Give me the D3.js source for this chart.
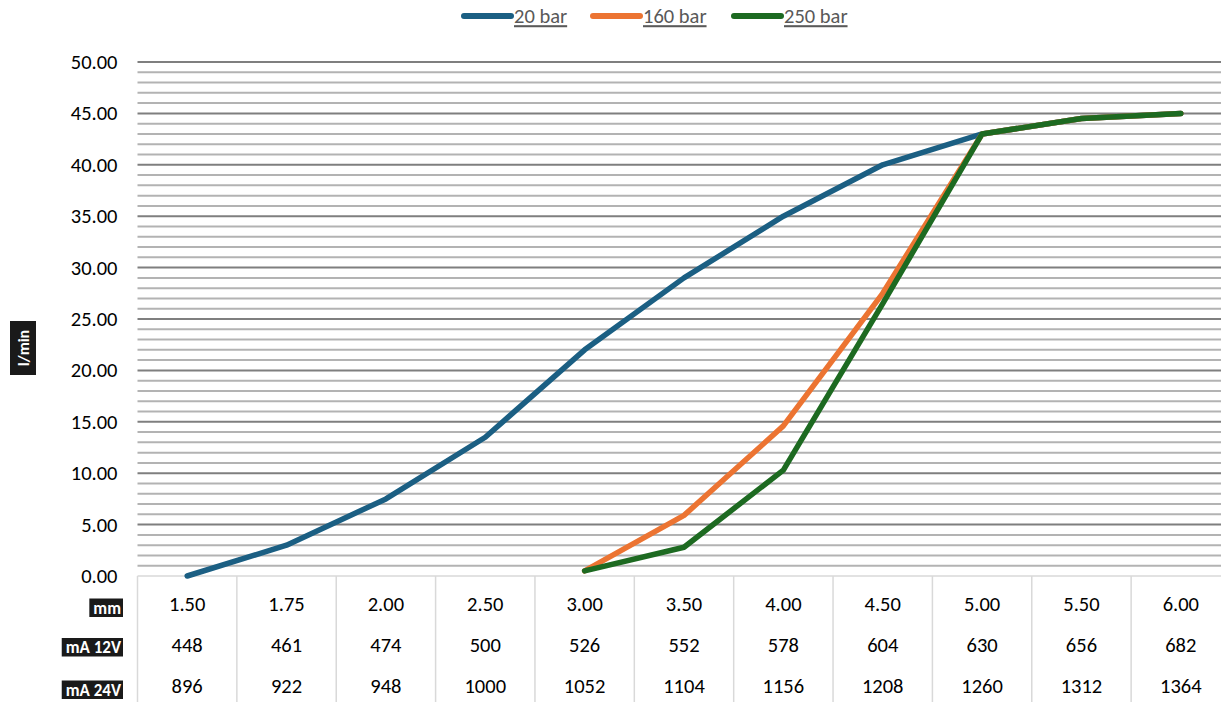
<!DOCTYPE html>
<html>
<head>
<meta charset="utf-8">
<script src="https://cdn.jsdelivr.net/npm/d3@7"></script>
<style>
  html, body { margin: 0; padding: 0; background: #fff; }
  svg { display: block; font-family: Carlito, Lato, "Open Sans", sans-serif; }
</style>
</head>
<body>
<svg id="chart" width="1221" height="702"></svg>
<script>
// Orifice sizes (mm) and matching coil currents
const categories = ["1.50", "1.75", "2.00", "2.50", "3.00", "3.50", "4.00", "4.50", "5.00", "5.50", "6.00"];
const mA12V = [448, 461, 474, 500, 526, 552, 578, 604, 630, 656, 682];
const mA24V = [896, 922, 948, 1000, 1052, 1104, 1156, 1208, 1260, 1312, 1364];

// Flow (l/min) per pressure level; null where no value exists
const flow20 = [0, 3, 7.5, 13.5, 22, 29, 35, 40, 43, 44.5, 45];
const flow160 = [null, null, null, null, 0.5, 5.9, 14.6, 27.5, 43, 44.5, 45];
const flow250 = [null, null, null, null, 0.5, 2.8, 10.3, 26.5, 43, 44.5, 45];

const yTicks = [0, 5, 10, 15, 20, 25, 30, 35, 40, 45, 50];
const rowLabels = ["mm", "mA 12V", "mA 24V"];

const series = [
  { name: "20 bar", values: flow20, color: "#1b5f83" },
  { name: "160 bar", values: flow160, color: "#ec7432" },
  { name: "250 bar", values: flow250, color: "#1d6a21" }
];

const svg = d3.select("#chart");
const plotLeft = 137.5, plotRight = 1230.5, plotTop = 62, plotBottom = 576;
const fontSize = 20.5;

const x = d3.scaleBand().domain(categories).range([plotLeft, plotRight]);
const y = d3.scaleLinear().domain([0, 50]).range([plotBottom, plotTop]);

// Minor gridlines every 1 l/min, majors every 5
const minor = d3.range(1, 50).filter(v => v % 5 !== 0);
svg.append("g").selectAll("line").data(minor).join("line")
  .attr("x1", plotLeft).attr("x2", 1221)
  .attr("y1", d => y(d)).attr("y2", d => y(d))
  .attr("stroke", "#b3b3b3").attr("stroke-width", 2);
svg.append("g").selectAll("line").data(yTicks.filter(v => v > 0)).join("line")
  .attr("x1", plotLeft).attr("x2", 1221)
  .attr("y1", d => y(d)).attr("y2", d => y(d))
  .attr("stroke", "#7f7f7f").attr("stroke-width", 2);

// Y axis tick labels
const yAxis = d3.axisLeft(y).tickValues(yTicks).tickFormat(d3.format(".2f")).tickSize(0).tickPadding(20);
const yg = svg.append("g").attr("transform", `translate(${plotLeft},0)`).call(yAxis);
yg.select(".domain").remove();
yg.selectAll("text").attr("font-size", fontSize).attr("fill", "#000")
  .attr("font-family", "Carlito, Lato, 'Open Sans', sans-serif");

// Axis title
const tg = svg.append("g").attr("transform", "translate(23,348) rotate(-90)");
tg.append("rect").attr("x", -27).attr("y", -13).attr("width", 54).attr("height", 26).attr("fill", "#1a1a1a");
tg.append("text").attr("text-anchor", "middle").attr("dy", "0.35em")
  .attr("fill", "#fff").attr("font-weight", "bold").attr("font-size", 16).text("l/min");

// Data table beneath the plot
const tableBottom = 702;
svg.append("line").attr("x1", plotLeft).attr("x2", 1221).attr("y1", plotBottom).attr("y2", plotBottom)
  .attr("stroke", "#d9d9d9").attr("stroke-width", 1.5);
const borders = categories.map(c => x(c)).concat([x(categories[categories.length - 1]) + x.bandwidth()]);
svg.append("g").selectAll("line").data(borders).join("line")
  .attr("x1", d => d).attr("x2", d => d)
  .attr("y1", plotBottom).attr("y2", tableBottom)
  .attr("stroke", "#d9d9d9").attr("stroke-width", 1.5);

const rowY = [604, 645, 686];
const rows = [categories, mA12V, mA24V];
rows.forEach((vals, i) => {
  svg.append("g").selectAll("text").data(vals).join("text")
    .attr("x", (d, j) => x(categories[j]) + x.bandwidth() / 2)
    .attr("y", rowY[i])
    .attr("text-anchor", "middle").attr("dy", "0.35em")
    .attr("font-size", fontSize).attr("fill", "#000")
    .text(d => d);
});

// Row headers: white bold text on black boxes
const headerY = [607.5, 647, 689.5];
rowLabels.forEach((lab, i) => {
  const g = svg.append("g");
  const t = g.append("text").attr("x", 121).attr("y", headerY[i]).attr("text-anchor", "end")
    .attr("dy", "0.36em").attr("font-size", 17).attr("font-weight", "bold").attr("fill", "#fff").text(lab);
  const bb = t.node().getBBox();
  g.insert("rect", "text").attr("x", bb.x - 4).attr("y", headerY[i] - 9).attr("width", 123 - bb.x + 4).attr("height", 18.5)
    .attr("fill", "#1a1a1a");
});

// Lines
const line = d3.line()
  .defined(d => d.v !== null)
  .x(d => x(d.c) + x.bandwidth() / 2)
  .y(d => y(d.v));
series.forEach(s => {
  svg.append("path")
    .datum(categories.map((c, i) => ({ c, v: s.values[i] })))
    .attr("d", line)
    .attr("fill", "none").attr("stroke", s.color).attr("stroke-width", 5.5)
    .attr("stroke-linecap", "round").attr("stroke-linejoin", "round");
});

// Legend
const legendX = [462, 591, 732];
series.forEach((s, i) => {
  const g = svg.append("g").attr("transform", `translate(${legendX[i]},16)`);
  g.append("line").attr("x1", 2).attr("x2", 49).attr("y1", 0).attr("y2", 0)
    .attr("stroke", s.color).attr("stroke-width", 6).attr("stroke-linecap", "round");
  g.append("text").attr("x", 52).attr("dy", "0.35em").attr("font-size", fontSize)
    .attr("fill", "#595959").attr("text-decoration", "underline").text(s.name);
});
</script>
</body>
</html>
